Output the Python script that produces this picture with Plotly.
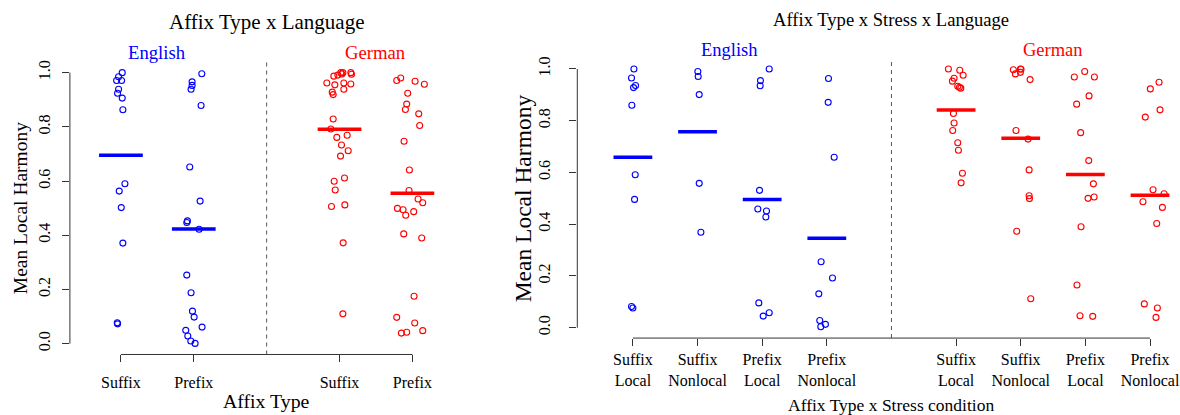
import numpy as np
import plotly.graph_objects as go

# ---------------- data ----------------
# Left panel: Affix Type x Language
left_cats = ["Suffix", "Prefix", "Suffix", "Prefix"]
left_pos = [1, 2, 4, 5]

eng_suffix = [1.0, 0.985, 0.971, 0.971, 0.939, 0.924, 0.906, 0.863, 0.590, 0.563, 0.502, 0.371, 0.077, 0.073]
eng_suffix_jit = [0.018, -0.032, -0.059, 0.009, -0.032, -0.046, 0.018, 0.027, 0.055, -0.023, 0.005, 0.027, -0.05, -0.046]

eng_prefix = [0.996, 0.966, 0.953, 0.939, 0.879, 0.652, 0.526, 0.453, 0.447, 0.422, 0.253, 0.188, 0.120, 0.098,
              0.061, 0.049, 0.028, 0.010, 0.001]
eng_prefix_jit = [0.11, -0.023, -0.023, -0.037, 0.10, -0.055, 0.087, -0.087, -0.096, 0.073, -0.096, -0.037, -0.018,
                  0.005, 0.114, -0.11, -0.082, -0.041, 0.018]

ger_suffix = [1.0, 1.0, 1.0, 0.994, 0.995, 0.991, 0.987, 0.962, 0.955, 0.962, 0.958, 0.939, 0.928, 0.919, 0.829,
              0.792, 0.769, 0.761, 0.733, 0.712, 0.692, 0.611, 0.599, 0.567, 0.512, 0.506, 0.372, 0.110]
ger_suffix_jit = [0.018, 0.046, 0.155, 0.164, 0.032, -0.023, -0.078, -0.174, -0.064, 0.059, 0.155, 0.059, -0.1,
                  -0.087, -0.087, -0.119, 0.105, -0.037, 0.027, 0.119, 0.014, 0.068, -0.073, -0.059, 0.073, -0.11,
                  0.05, 0.046]

ger_prefix = [0.980, 0.971, 0.968, 0.957, 0.924, 0.884, 0.864, 0.848, 0.805, 0.747, 0.641, 0.565, 0.534, 0.520,
              0.499, 0.494, 0.487, 0.474, 0.405, 0.390, 0.175, 0.097, 0.076, 0.048, 0.039, 0.042]
ger_prefix_jit = [-0.16, -0.215, 0.037, 0.164, -0.064, -0.078, -0.096, 0.087, 0.10, -0.114, -0.041, -0.046, 0.078,
                  0.142, -0.205, -0.128, 0.018, -0.091, -0.119, 0.128, 0.023, -0.215, 0.032, 0.142, -0.151, -0.078]

# Right panel: Affix Type x Stress x Language
right_cats = ["Suffix<br>Local", "Suffix<br>Nonlocal", "Prefix<br>Local", "Prefix<br>Nonlocal",
              "Suffix<br>Local", "Suffix<br>Nonlocal", "Prefix<br>Local", "Prefix<br>Nonlocal"]
right_pos = [1, 2, 3, 4, 6, 7, 8, 9]

eng_suf_loc = [1.0, 0.965, 0.936, 0.928, 0.860, 0.591, 0.496, 0.082, 0.076]
eng_suf_loc_jit = [0.016, -0.021, 0.041, 0.01, -0.016, 0.036, 0.026, -0.021, 0.0]

eng_suf_non = [0.990, 0.971, 0.901, 0.558, 0.369]
eng_suf_non_jit = [0.005, 0.01, 0.026, 0.026, 0.052]

eng_pre_loc = [1.0, 0.955, 0.935, 0.531, 0.459, 0.451, 0.428, 0.096, 0.058, 0.045]
eng_pre_loc_jit = [0.109, -0.026, -0.031, -0.041, -0.067, 0.067, 0.057, -0.052, 0.109, 0.016]

eng_pre_non = [0.963, 0.871, 0.659, 0.255, 0.192, 0.131, 0.028, 0.013, 0.004]
eng_pre_non_jit = [0.026, 0.021, 0.114, -0.088, 0.088, -0.124, -0.109, -0.021, -0.093]

ger_suf_loc = [1.0, 0.995, 0.976, 0.964, 0.953, 0.933, 0.929, 0.926, 0.828, 0.791, 0.762, 0.715, 0.686, 0.597, 0.560]
ger_suf_loc_jit = [-0.119, 0.057, 0.109, -0.031, -0.057, 0.026, 0.052, 0.073, -0.041, -0.031, -0.052, 0.026, 0.036,
                   0.098, 0.078]

ger_suf_non = [0.997, 1.0, 0.999, 0.981, 0.987, 0.959, 0.762, 0.729, 0.610, 0.510, 0.499, 0.373, 0.112]
ger_suf_non_jit = [-0.114, -0.005, 0.005, -0.083, -0.005, 0.145, -0.073, 0.114, 0.13, 0.13, 0.135, -0.062, 0.155]

ger_pre_loc = [0.990, 0.969, 0.969, 0.896, 0.864, 0.754, 0.646, 0.556, 0.500, 0.505, 0.390, 0.165, 0.046, 0.044]
ger_pre_loc_jit = [-0.01, -0.171, 0.14, 0.057, -0.135, -0.073, 0.052, 0.124, 0.041, 0.135, -0.067, -0.13, -0.083,
                   0.114]

ger_pre_non = [0.949, 0.923, 0.842, 0.814, 0.533, 0.518, 0.487, 0.465, 0.403, 0.092, 0.076, 0.040]
ger_pre_non_jit = [0.14, 0.005, 0.155, -0.073, 0.047, 0.218, -0.109, 0.192, 0.104, -0.088, 0.114, 0.093]

y_ticks = [0.0, 0.2, 0.4, 0.6, 0.8, 1.0]

# ---------------- styling ----------------
BLUE = "#0000FF"
RED = "#FF0000"
AX = "#333333"
FONT = "Liberation Serif"
W, H = 1180, 415

fig = go.Figure()


def add_group(values, jitter, pos, color, xa, ya):
    xs = [pos + j for j in jitter]
    fig.add_trace(go.Scatter(
        x=xs, y=values, mode="markers", xaxis=xa, yaxis=ya, showlegend=False,
        marker=dict(symbol="circle-open", size=6, color=color, line=dict(width=1.1, color=color)),
        hoverinfo="y"))
    m = float(np.mean(values))
    fig.add_trace(go.Scatter(
        x=[pos - 0.3, pos + 0.3], y=[m, m], mode="lines", xaxis=xa, yaxis=ya, showlegend=False,
        line=dict(color=color, width=3.5), hoverinfo="skip"))


left_groups = [(eng_suffix, eng_suffix_jit, BLUE), (eng_prefix, eng_prefix_jit, BLUE),
               (ger_suffix, ger_suffix_jit, RED), (ger_prefix, ger_prefix_jit, RED)]
for (vals, jit, col), p in zip(left_groups, left_pos):
    add_group(vals, jit, p, col, "x", "y")

right_groups = [(eng_suf_loc, eng_suf_loc_jit, BLUE), (eng_suf_non, eng_suf_non_jit, BLUE),
                (eng_pre_loc, eng_pre_loc_jit, BLUE), (eng_pre_non, eng_pre_non_jit, BLUE),
                (ger_suf_loc, ger_suf_loc_jit, RED), (ger_suf_non, ger_suf_non_jit, RED),
                (ger_pre_loc, ger_pre_loc_jit, RED), (ger_pre_non, ger_pre_non_jit, RED)]
for (vals, jit, col), p in zip(right_groups, right_pos):
    add_group(vals, jit, p, col, "x2", "y2")

# ---------------- geometry (pixels -> paper) ----------------
L_left, L_right = 69.9, 463.4
L_top, L_bot = 60.1, 354.2
R_left, R_right = 577.3, 1180.0
R_top, R_bot = 56.9, 337.7


def py(p):
    return 1 - p / H


tickfont = dict(family=FONT, size=16, color="black")
common_y = dict(range=[-0.04, 1.04], tickvals=y_ticks, ticktext=[f"{v:.1f}" for v in y_ticks],
                ticks="outside", ticklen=7, tickcolor=AX, tickwidth=1, showline=False, showgrid=False,
                zeroline=False, tickangle=-90, tickfont=tickfont)

fig.update_layout(
    width=W, height=H, margin=dict(l=0, r=0, t=0, b=0),
    paper_bgcolor="white", plot_bgcolor="white",
    font=dict(family=FONT, color="black"),
    xaxis=dict(domain=[L_left / W, L_right / W], range=[0.3, 5.7], tickvals=left_pos, ticktext=left_cats,
               ticks="outside", ticklen=7, tickcolor=AX, showline=False, showgrid=False, zeroline=False,
               tickfont=tickfont, anchor="y", ticklabelstandoff=6),
    yaxis=dict(domain=[py(L_bot), py(L_top)], anchor="x", ticklabelstandoff=6, **common_y),
    xaxis2=dict(domain=[R_left / W, 1.0], range=[0.14, 0.14 + (R_right - R_left) / 64.64], tickvals=right_pos,
                ticktext=right_cats, ticks="outside", ticklen=7, tickcolor=AX, showline=False, showgrid=False,
                zeroline=False, tickfont=tickfont, anchor="y2", ticklabelstandoff=0),
    yaxis2=dict(domain=[py(R_bot), py(R_top)], anchor="x2", ticklabelstandoff=13, **common_y),
)

line_style = dict(color=AX, width=1)
shapes = [
    # left panel axis lines
    dict(type="line", xref="x domain", yref="y", x0=0, x1=0, y0=0, y1=1, line=line_style),
    dict(type="line", xref="x", yref="y domain", x0=1, x1=5, y0=0, y1=0, line=line_style),
    dict(type="line", xref="x", yref="y domain", x0=3, x1=3, y0=0, y1=1,
         line=dict(color="#555555", width=1, dash="4px,4px")),
    # right panel axis lines
    dict(type="line", xref="x2 domain", yref="y2", x0=0, x1=0, y0=0, y1=1, line=line_style),
    dict(type="line", xref="x2", yref="y2 domain", x0=1, x1=9, y0=0, y1=0, line=line_style),
    dict(type="line", xref="x2", yref="y2 domain", x0=5, x1=5, y0=0, y1=1,
         line=dict(color="#555555", width=1, dash="4px,4px")),
]
fig.update_layout(shapes=shapes)

ann = [
    dict(text="Affix Type x Language", x=(L_left + L_right) / 2 / W, y=py(20), xref="paper", yref="paper",
         font=dict(size=21), showarrow=False, xanchor="center", yanchor="middle"),
    dict(text="English", x=1.5, xref="x", y=py(51), yref="paper", font=dict(size=18.7, color=BLUE),
         showarrow=False, xanchor="center", yanchor="middle"),
    dict(text="German", x=4.5, xref="x", y=py(51), yref="paper", font=dict(size=18.7, color=RED),
         showarrow=False, xanchor="center", yanchor="middle"),
    dict(text="Affix Type", x=(L_left + L_right) / 2 / W, y=py(401), xref="paper", yref="paper",
         font=dict(size=19.8), showarrow=False, xanchor="center", yanchor="middle"),
    dict(text="Mean Local Harmony", x=20 / W, y=py((L_top + L_bot) / 2), xref="paper", yref="paper",
         font=dict(size=19.5), textangle=-90, showarrow=False, xanchor="center", yanchor="middle"),

    dict(text="Affix Type x Stress x Language", x=891 / W, y=py(18), xref="paper", yref="paper",
         font=dict(size=18.6), showarrow=False, xanchor="center", yanchor="middle"),
    dict(text="English", x=2.5, xref="x2", y=py(48), yref="paper", font=dict(size=18.5, color=BLUE),
         showarrow=False, xanchor="center", yanchor="middle"),
    dict(text="German", x=7.5, xref="x2", y=py(48), yref="paper", font=dict(size=18.5, color=RED),
         showarrow=False, xanchor="center", yanchor="middle"),
    dict(text="Affix Type x Stress condition", x=891 / W, y=py(405), xref="paper", yref="paper",
         font=dict(size=17.5), showarrow=False, xanchor="center", yanchor="middle"),
    dict(text="Mean Local Harmony", x=523 / W, y=py((R_top + R_bot) / 2), xref="paper", yref="paper",
         font=dict(size=23.5), textangle=-90, showarrow=False, xanchor="center", yanchor="middle"),
]
fig.update_layout(annotations=ann)

fig.write_html("out.html", config={"displayModeBar": False},
               post_script="document.body.style.margin='0';document.body.style.overflow='hidden';")
